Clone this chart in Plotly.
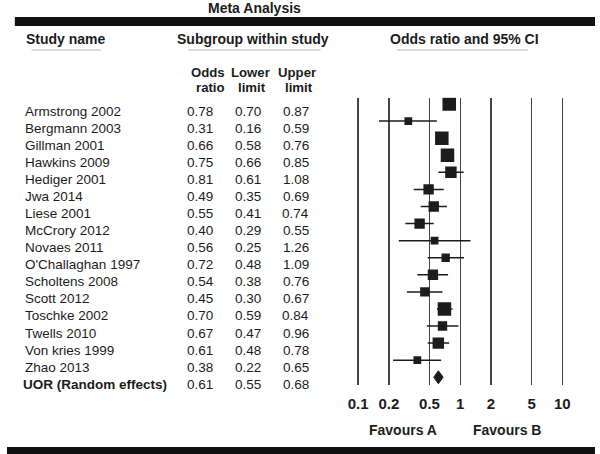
import math
import plotly.graph_objects as go

FONT = "Liberation Sans, Arial, Helvetica, sans-serif"
INK = "#1c1c1c"
W, H = 600, 454

# --- data ---
studies = [
    "Armstrong 2002", "Bergmann 2003", "Gillman 2001", "Hawkins 2009",
    "Hediger 2001", "Jwa 2014", "Liese 2001", "McCrory 2012",
    "Novaes 2011", "O'Challaghan 1997", "Scholtens 2008", "Scott 2012",
    "Toschke 2002", "Twells 2010", "Von kries 1999", "Zhao 2013",
]
odds_ratio = [0.78, 0.31, 0.66, 0.75, 0.81, 0.49, 0.55, 0.40,
              0.56, 0.72, 0.54, 0.45, 0.70, 0.67, 0.61, 0.38]
lower_limit = [0.70, 0.16, 0.58, 0.66, 0.61, 0.35, 0.41, 0.29,
               0.25, 0.48, 0.38, 0.30, 0.59, 0.47, 0.48, 0.22]
upper_limit = [0.87, 0.59, 0.76, 0.85, 1.08, 0.69, 0.74, 0.55,
               1.26, 1.09, 0.76, 0.67, 0.84, 0.96, 0.78, 0.65]
# relative study weight (largest = 1)
rel_weight = [1.0, 0.33, 1.0, 1.0, 0.72, 0.59, 0.59, 0.59,
              0.33, 0.38, 0.59, 0.48, 1.0, 0.48, 0.72, 0.33]

pooled_label = "UOR (Random effects)"
pooled_or = 0.61
pooled_lower = 0.55
pooled_upper = 0.68

axis_ticks = [0.1, 0.2, 0.5, 1, 2, 5, 10]
axis_ticktext = ["0.1", "0.2", "0.5", "1", "2", "5", "10"]


def px(x):
    return x / W


def py(y):
    return 1 - y / H


rows = list(range(len(studies)))
pooled_row = len(studies)
box_size = [13.5 * math.sqrt(w) for w in rel_weight]

fig = go.Figure()

# study boxes with CI whiskers
fig.add_trace(go.Scatter(
    x=odds_ratio, y=rows,
    mode="markers",
    marker=dict(symbol="square", size=box_size, color=INK, opacity=1, line_width=0),
    error_x=dict(
        type="data", symmetric=False,
        array=[u - o for o, u in zip(odds_ratio, upper_limit)],
        arrayminus=[o - l for o, l in zip(odds_ratio, lower_limit)],
        width=0, thickness=1.5, color=INK,
    ),
    hoverinfo="skip",
))

# pooled diamond
fig.add_trace(go.Scatter(
    x=[pooled_lower, pooled_or, pooled_upper, pooled_or, pooled_lower],
    y=[pooled_row, pooled_row - 0.38, pooled_row, pooled_row + 0.38, pooled_row],
    mode="lines", fill="toself", fillcolor=INK,
    line=dict(color=INK, width=1),
    hoverinfo="skip",
))

ann = []


def txt(text, x, y, size=13.5, bold=False, anchor="center", yref="paper", yshift=0):
    ann.append(dict(
        text=f"<b>{text}</b>" if bold else text,
        x=x, y=y, xref="paper", yref=yref, yshift=yshift,
        xanchor=anchor, yanchor="middle", showarrow=False, borderpad=0,
        font=dict(family=FONT, size=size, color=INK),
    ))


# headers
txt("Meta Analysis", px(253), py(8), size=14, bold=True)
txt("Study name", px(18), py(39.5), size=14, bold=True, anchor="left")
txt("Subgroup within study", px(251), py(39.5), size=14, bold=True)
txt("Odds ratio and 95% CI", px(467), py(39.5), size=14, bold=True)
txt("Odds", px(205), py(72.5), size=13.2, bold=True)
txt("ratio", px(208), py(87.5), size=13.2, bold=True)
txt("Lower", px(248), py(72.5), size=13.2, bold=True)
txt("limit", px(250), py(87.5), size=13.2, bold=True)
txt("Upper", px(296), py(72.5), size=13.2, bold=True)
txt("limit", px(298), py(87.5), size=13.2, bold=True)
txt("Favours A", px(404), py(430), size=14, bold=True)
txt("Favours B", px(510), py(430), size=14, bold=True)

# table rows
for r, name, o, lo, hi in zip(rows, studies, odds_ratio, lower_limit, upper_limit):
    txt(name, px(17), r, anchor="left", yref="y", yshift=-7)
    txt(f"{o:.2f}", px(197), r, yref="y", yshift=-7)
    txt(f"{lo:.2f}", px(246), r, yref="y", yshift=-7)
    txt(f"{hi:.2f}", px(294.5), r, yref="y", yshift=-7)
txt(pooled_label, px(15), pooled_row, anchor="left", bold=True, yref="y", yshift=-7)
txt(f"{pooled_or:.2f}", px(197), pooled_row, yref="y", yshift=-7)
txt(f"{pooled_lower:.2f}", px(246), pooled_row, yref="y", yshift=-7)
txt(f"{pooled_upper:.2f}", px(294.5), pooled_row, yref="y", yshift=-7)

shapes = [
    # black bands
    dict(type="rect", xref="paper", yref="paper", x0=px(8), x1=1, y0=py(26), y1=py(17),
         fillcolor="#111111", line_width=0),
    dict(type="rect", xref="paper", yref="paper", x0=0, x1=1, y0=0, y1=py(447),
         fillcolor="#111111", line_width=0),
]
# header underlines
for x0, x1 in [(25, 96), (185, 320), (398, 532)]:
    shapes.append(dict(type="line", xref="paper", yref="paper",
                       x0=px(x0), x1=px(x1), y0=py(50), y1=py(50),
                       line=dict(color="#b8b8b8", width=1)))

# rows map to pixels: row v -> 104 + 17.08 v ; gridlines run from y=97.7 to y=385
top_px, bot_px = 97.7, 385
row0_px, step = 104, 17.08
# log axis: 104.2 px per decade, 0.1 at x=358.3; pad range a little so edge gridlines show
dec_px, x01_px, pad = 104.2, 358.3, 0.03

fig.update_layout(
    width=W, height=H,
    margin=dict(l=0, r=0, t=0, b=0),
    paper_bgcolor="white", plot_bgcolor="white",
    showlegend=False,
    annotations=ann,
    shapes=shapes,
    xaxis=dict(
        type="log", range=[-1 - pad, 1 + pad],
        domain=[px(x01_px - pad * dec_px), px(x01_px + (2 + pad) * dec_px)],
        tickvals=axis_ticks,
        ticktext=[f"<b>{t}</b>" for t in axis_ticktext],
        tickfont=dict(family=FONT, size=15, color=INK),
        ticks="outside", ticklen=5, tickcolor="rgba(0,0,0,0)",
        showgrid=True, gridcolor="#444444", gridwidth=1.5,
        zeroline=False, showline=False, fixedrange=True,
    ),
    yaxis=dict(
        domain=[py(bot_px), py(top_px)],
        range=[(bot_px - row0_px) / step, (top_px - row0_px) / step],
        showgrid=False, zeroline=False, showticklabels=False, showline=False,
        fixedrange=True,
    ),
)

fig.write_html(
    "out.html",
    config={"displayModeBar": False, "staticPlot": True},
    post_script="document.body.style.margin='0';",
)
